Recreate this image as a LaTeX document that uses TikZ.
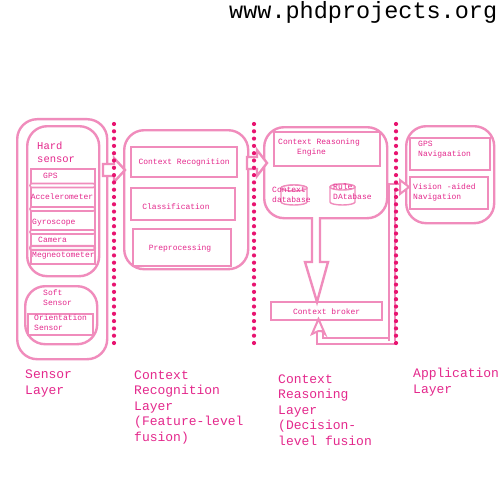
\documentclass[tikz,border=0pt]{standalone}
\usepackage{fontspec}
\setmonofont{Liberation Mono}
\definecolor{boxpink}{RGB}{240,140,188}
\definecolor{dotpink}{RGB}{232,20,112}
\definecolor{txtpink}{RGB}{228,40,140}
\begin{document}
\begin{tikzpicture}[x=1pt,y=-1pt,
 box/.style={draw=boxpink, line width=2.4pt, fill=white, anchor=north west, inner sep=0pt},
 rbox/.style={box, rounded corners=20pt},
 thinbox/.style={draw=boxpink, line width=1.6pt, fill=white},
 lbl/.style={text=txtpink, font=\ttfamily\fontsize{8}{10}\selectfont, inner sep=0pt, align=left},
 big/.style={text=txtpink, font=\ttfamily\fontsize{13}{15.5}\selectfont, inner sep=0pt, align=left, anchor=base west},
 dots/.style={draw=dotpink, line width=4.2pt, line cap=round, dash pattern=on 0pt off 7.3pt},
 blockarrow/.style={draw=boxpink, line width=2.4pt, fill=white, line join=miter},
 link/.style={draw=boxpink, line width=2.2pt, double=white, double distance=3.5pt},
 cylline/.style={draw=boxpink, line width=1.4pt, fill=white},
]
\useasboundingbox (0,0) rectangle (500,500);
\fill[white] (0,0) rectangle (500,500);

% title
\node[font=\ttfamily\fontsize{23.5}{26}\selectfont, anchor=base west, inner sep=0pt] (title) at (229,19) {www.phdprojects.org};

% ---------- Sensor layer ----------
\node[rbox, minimum width=90pt, minimum height=240pt] (sensor) at (16,118) {};
\node[rbox, minimum width=72pt, minimum height=150pt] (hard) at (26,125) {};
\node[lbl, anchor=north west, font=\ttfamily\fontsize{10.5}{13}\selectfont] (hardt) at (37,142) {Hard\\sensor};
\node[thinbox, anchor=north west, minimum width=64pt, minimum height=95pt, inner sep=0pt] (list) at (30,168) {};
\draw[thinbox, rounded corners=2pt] (30,183.5) rectangle (95,187.5);
\draw[thinbox, rounded corners=2pt] (30,207) rectangle (95,211);
\draw[thinbox, rounded corners=2pt] (30,230) rectangle (95,234);
\draw[thinbox, rounded corners=2pt, line width=2.2pt] (30,246) rectangle (95,250);
\node[lbl, anchor=west] (gps) at (43,176) {GPS};
\node[lbl, anchor=center] (acc) at (62,197) {Accelerometer};
\node[lbl, anchor=west] (gyr) at (32,223) {Gyroscope};
\node[lbl, anchor=west] (cam) at (38,240) {Camera};
\node[lbl, anchor=west] (mag) at (32,256) {Megneotometer};

\node[rbox, minimum width=72pt, minimum height=58pt] (soft) at (24,285) {};
\node[lbl, anchor=west] (softt) at (43,298) {Soft\\Sensor};
\node[box, line width=2pt, minimum width=65pt, minimum height=21pt] (orient) at (27,313) {};
\node[lbl, anchor=west] (orientt) at (34,323) {Orientation\\Sensor};

% ---------- Context recognition layer ----------
\node[rbox, minimum width=124pt, minimum height=139pt] (recog) at (123,129) {};
\node[box, minimum width=106pt, minimum height=30pt] (cr) at (130,146) {};
\node[lbl] at (cr.center) {Context Recognition};
\node[box, minimum width=104pt, minimum height=32pt] (cls) at (130,187) {};
\node[lbl] at (176,207) {Classification};
\node[box, minimum width=98pt, minimum height=37pt] (pre) at (132,228) {};
\node[lbl] at (180,248) {Preprocessing};

% ---------- Context reasoning layer ----------
\node[rbox, minimum width=123pt, minimum height=91pt] (reason) at (263,126) {};
\node[box, minimum width=106pt, minimum height=34pt] (engine) at (273,131) {};
\node[lbl, anchor=north west] (enginet) at (278,139) {Context Reasoning\\\hspace*{19pt}Engine};
% context database cylinder
\draw[cylline] (281,188) -- (281,202) arc[start angle=180, end angle=0, x radius=13, y radius=3] -- (307,188) arc[start angle=0, end angle=-180, x radius=13, y radius=3] -- cycle;
\draw[cylline] (294,188) ellipse[x radius=13, y radius=3];
% rule database cylinder
\draw[cylline] (330,187) -- (330,202) arc[start angle=180, end angle=0, x radius=12.5, y radius=3] -- (355,187) arc[start angle=0, end angle=-180, x radius=12.5, y radius=3] -- cycle;
\draw[cylline] (342.5,187) ellipse[x radius=12.5, y radius=3];
\node[lbl, anchor=west] (cdbt) at (272,195) {Context\\database};
\node[lbl, anchor=west] (rdbt) at (333,192) {Rule\\DAtabase};

\node[box, minimum width=111pt, minimum height=18pt] (broker) at (270,301) {};
\node[lbl] at (broker.center) {Context broker};

% ---------- Application layer ----------
\node[rbox, minimum width=88pt, minimum height=97pt] (app) at (405,125) {};
\node[box, minimum width=80pt, minimum height=32pt] (gpsnav) at (409,137) {};
\node[lbl, anchor=west] at (418,150) {GPS\\Navigaation};
\node[box, minimum width=78pt, minimum height=32pt] (vis) at (409,176) {};
\node[lbl, anchor=west] at (413,192) {Vision -aided\\Navigation};

% ---------- block arrows ----------
\draw[blockarrow] (103,164) -- (114,164) -- (114,158) -- (125,170) -- (114,182) -- (114,176) -- (103,176) -- cycle;
\draw[blockarrow] (247,157) -- (257,157) -- (257,150) -- (267,163) -- (257,176) -- (257,169) -- (247,169) -- cycle;
\draw[blockarrow] (312,217) -- (312,262) -- (305,262) -- (317,302) -- (328,262) -- (320,262) -- (320,217);

% ---------- broker links ----------
\draw[link] (395,341) -- (320,341) -- (320,331);
\draw[blockarrow, line width=2pt] (312,334) -- (318.5,319) -- (325,334) -- (321.5,331) -- (318.5,331) -- cycle;
\draw[link] (392,341) -- (392,187) -- (402,187);
\draw[blockarrow, line width=2pt] (400,180) -- (409,187) -- (400,194) -- cycle;

% ---------- dotted separators ----------
\draw[dots] (114,124) -- (114,346);
\draw[dots] (254,124) -- (254,346);
\draw[dots] (396,124) -- (396,346);

% ---------- layer captions (anchor = baseline of last line) ----------
\node[big] (l1) at (25,394) {Sensor\\Layer};
\node[big] (l2) at (134,441) {Context\\Recognition\\Layer\\(Feature-level\\fusion)};
\node[big] (l3) at (278,445) {Context\\Reasoning\\Layer\\(Decision-\\level fusion};
\node[big] (l4) at (413,393) {Application\\Layer};
\end{tikzpicture}
\end{document}
